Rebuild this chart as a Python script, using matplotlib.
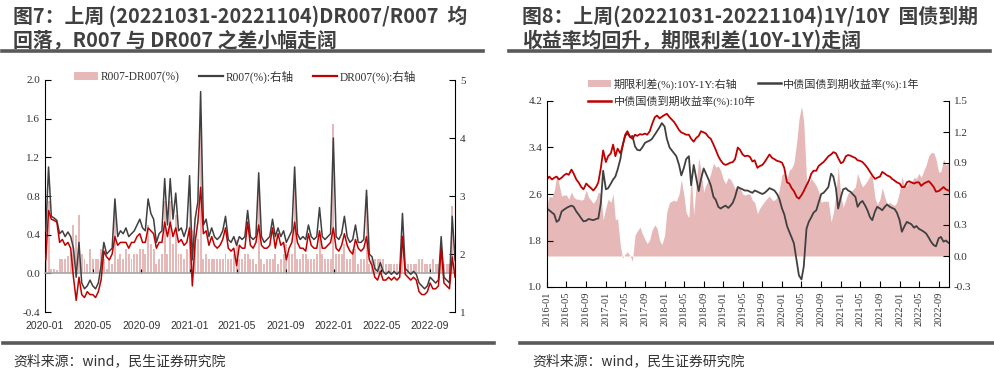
import numpy as np
import pandas as pd
import matplotlib
matplotlib.use('Agg')
import matplotlib.pyplot as plt
import matplotlib.dates as mdates
from matplotlib.patches import Patch
from matplotlib.lines import Line2D
from matplotlib import font_manager

plt.rcParams['font.family'] = ['Liberation Serif', 'Noto Sans CJK SC']
names = {f.name for f in font_manager.fontManager.ttflist}
narrow = 'Liberation Sans Narrow' if 'Liberation Sans Narrow' in names else 'Liberation Sans'

PINK = '#e6b9b8'
GRAY = '#404040'
RED = '#c00000'
TXT = '#333333'

# ---- 图7: weekly R007 / DR007 (%) ----
week_dates = pd.date_range('2020-01-03', '2022-11-04', freq='W-FRI')
r007 = [
    2.40, 3.50, 2.65, 2.62, 2.58, 2.35, 2.40, 2.30, 2.38, 2.30, 2.10, 1.60, 2.20,
    1.50, 1.40, 1.45, 1.55, 1.45, 1.40, 1.50, 1.80, 2.20, 2.00, 2.05, 2.10, 2.95,
    2.30, 2.40, 2.35, 2.45, 2.30, 2.35, 2.40, 2.50, 2.60, 2.45, 2.40, 2.95, 2.70,
    2.60, 2.20, 2.35, 2.40, 3.30, 2.50, 3.30, 2.60, 3.05, 2.40, 2.45, 2.30, 2.45,
    # 2021
    3.35, 1.90, 2.60, 2.90, 4.80, 2.50, 2.60, 2.30, 2.45, 2.30, 2.25, 2.30, 2.40,
    2.65, 2.25, 2.20, 2.30, 2.15, 2.30, 2.25, 2.30, 2.75, 2.30, 2.25, 2.30, 3.40,
    2.30, 2.20, 2.25, 2.30, 2.60, 2.30, 2.45, 2.30, 2.40, 2.20, 2.30, 2.40, 3.50,
    2.35, 2.25, 2.30, 2.25, 2.50, 2.30, 2.25, 2.30, 2.80, 2.30, 2.25, 2.30, 2.35, 4.00,
    # 2022
    2.30, 2.25, 2.35, 2.65, 2.30, 2.20, 2.25, 2.50, 2.20, 2.20, 2.25, 3.10,
    2.00, 1.95, 1.75, 1.70, 1.85, 1.70, 1.65, 1.70, 1.65, 1.70, 1.65, 1.70, 2.70,
    1.75, 1.70, 1.65, 1.70, 1.65, 1.50, 1.45, 1.40, 1.45,
    1.60, 1.55, 1.50, 1.55, 2.30, 1.60, 1.55, 1.50, 2.65, 1.90,
]
dr007 = [
    1.90, 2.75, 2.60, 2.58, 2.55, 2.20, 2.25, 2.15, 2.20, 2.10, 1.60, 1.20, 1.60,
    1.30, 1.25, 1.35, 1.30, 1.30, 1.25, 1.35, 1.55, 2.05, 1.95, 1.90, 2.00, 2.30,
    2.15, 2.20, 2.20, 2.20, 2.10, 2.20, 2.20, 2.30, 2.35, 2.20, 2.20, 2.45, 2.40,
    2.35, 2.10, 2.20, 2.20, 2.55, 2.30, 2.55, 2.30, 2.45, 2.20, 2.25, 2.15, 2.20,
    # 2021
    2.45, 1.45, 2.20, 2.55, 3.15, 2.35, 2.40, 2.15, 2.30, 2.15, 2.10, 2.15, 2.25,
    2.45, 2.10, 2.05, 2.10, 1.80, 2.15, 2.10, 2.10, 2.55, 2.15, 2.10, 2.20, 2.50,
    2.15, 2.10, 2.10, 2.15, 2.45, 2.10, 2.35, 2.15, 2.20, 1.90, 2.10, 2.20, 2.55,
    2.20, 2.10, 2.10, 2.05, 2.35, 2.15, 2.10, 2.10, 2.40, 2.10, 2.10, 2.15, 2.20, 2.45,
    # 2022
    2.10, 2.05, 2.15, 2.35, 2.15, 2.05, 2.00, 2.25, 2.10, 2.05, 2.10, 2.30,
    1.90, 1.80, 1.60, 1.55, 1.70, 1.55, 1.55, 1.60, 1.55, 1.60, 1.55, 1.60, 2.30,
    1.65, 1.60, 1.55, 1.60, 1.55, 1.35, 1.30, 1.30, 1.35,
    1.50, 1.40, 1.40, 1.45, 2.10, 1.50, 1.45, 1.40, 1.95, 1.60,
]
spread7 = np.array(r007) - np.array(dr007)

# ---- 图8: semi-monthly treasury yields (%) ----
bond_dates = pd.date_range('2016-01-01', '2022-11-01', freq='SMS')
y10 = [
    2.85, 2.90, 2.85, 2.88, 2.90, 2.85, 2.88, 2.92, 2.95, 2.93, 3.02, 2.95,
    2.85, 2.80, 2.72, 2.68, 2.78, 2.74, 2.70, 2.66, 2.72, 2.80, 3.05, 3.35,
    3.15, 3.25, 3.30, 3.45, 3.25, 3.38, 3.30, 3.42, 3.62, 3.68, 3.58, 3.55,
    3.62, 3.60, 3.63, 3.62, 3.64, 3.62, 3.68, 3.80, 3.92, 3.95, 3.90, 3.93,
    3.96, 3.98, 3.92, 3.88, 3.84, 3.78, 3.70, 3.66, 3.64, 3.62, 3.62, 3.55,
    3.50, 3.56, 3.60, 3.68, 3.66, 3.64, 3.58, 3.55, 3.45, 3.36, 3.25, 3.18,
    3.12, 3.10, 3.12, 3.14, 3.15, 3.20, 3.40, 3.36, 3.28, 3.25, 3.26, 3.24,
    3.16, 3.18, 3.05, 3.08, 3.10, 3.15, 3.22, 3.28, 3.22, 3.20, 3.17, 3.16,
    3.14, 3.05, 2.80, 2.78, 2.70, 2.65, 2.55, 2.52, 2.58, 2.65, 2.75, 2.82,
    2.95, 3.00, 3.00, 3.08, 3.12, 3.15, 3.20, 3.25, 3.28, 3.32, 3.30, 3.22,
    3.13, 3.15, 3.25, 3.27, 3.26, 3.24, 3.22, 3.18, 3.17, 3.15, 3.10, 3.05,
    2.98, 2.92, 2.86, 2.88, 2.90, 2.98, 2.95, 2.92, 2.90, 2.86, 2.83, 2.80,
    2.78, 2.72, 2.72, 2.80, 2.82, 2.80, 2.78, 2.80, 2.80, 2.74, 2.78, 2.80,
    2.82, 2.78, 2.72, 2.64, 2.65, 2.68, 2.72, 2.68, 2.66,
]
y1 = [
    2.35, 2.32, 2.28, 2.25, 2.12, 2.15, 2.30, 2.33, 2.36, 2.38, 2.40, 2.38,
    2.30, 2.25, 2.18, 2.13, 2.14, 2.17, 2.16, 2.15, 2.17, 2.18, 2.45, 3.00,
    2.68, 2.70, 2.78, 2.85, 2.90, 3.02, 3.20, 3.44, 3.60, 3.64, 3.58, 3.60,
    3.42, 3.36, 3.35, 3.40, 3.48, 3.50, 3.52, 3.55, 3.62, 3.68, 3.75, 3.82,
    3.76, 3.55, 3.40, 3.35, 3.30, 3.25, 3.10, 2.92, 3.05, 3.20, 3.25, 2.75,
    3.10, 2.90, 2.65, 2.85, 3.04, 2.95, 2.85, 2.75, 2.55, 2.50, 2.38, 2.35,
    2.38, 2.40, 2.36, 2.40, 2.45, 2.55, 2.72, 2.70, 2.68, 2.66, 2.66, 2.64,
    2.62, 2.66, 2.64, 2.62, 2.60, 2.62, 2.66, 2.70, 2.68, 2.66, 2.60, 2.52,
    2.35, 2.25, 2.05, 1.95, 1.85, 1.75, 1.45, 1.20, 1.13, 1.35, 2.00, 2.12,
    2.20, 2.28, 2.32, 2.45, 2.60, 2.62, 2.67, 2.72, 2.95, 2.90, 2.70, 2.35,
    2.55, 2.68, 2.70, 2.66, 2.64, 2.60, 2.55, 2.38, 2.45, 2.48, 2.40, 2.32,
    2.20, 2.15, 2.30, 2.38, 2.35, 2.32, 2.38, 2.42, 2.38, 2.36, 2.34, 2.28,
    2.15, 1.95, 2.05, 2.12, 2.10, 2.08, 2.02, 2.05, 2.00, 1.98, 1.95, 1.92,
    1.85, 1.78, 1.72, 1.70, 1.84, 1.86, 1.78, 1.80, 1.76,
]
term_spread = np.array(y10) - np.array(y1)

fig = plt.figure(figsize=(9.95, 3.75), dpi=100)

# titles and frame lines
title_kw = dict(fontsize=14.3, fontweight='bold', family='Noto Sans CJK SC', color='#404040', va='center')
fig.text(13 / 995, 1 - 16 / 375, '图7：上周 (20221031-20221104)DR007/R007  均', **title_kw)
fig.text(13 / 995, 1 - 40 / 375, '回落，R007 与 DR007 之差小幅走阔', **title_kw)
fig.text(522 / 995, 1 - 16 / 375, '图8：上周(20221031-20221104)1Y/10Y  国债到期', **title_kw)
fig.text(522 / 995, 1 - 40 / 375, '收益率均回升，期限利差(10Y-1Y)走阔', **title_kw)
for x0, x1, yy in [(2, 483, 51), (509, 990, 51), (3, 494, 343), (520, 995, 343)]:
    fig.add_artist(Line2D([x0 / 995, x1 / 995], [1 - yy / 375] * 2, transform=fig.transFigure,
                          color='#595959', lw=2.6))
src_kw = dict(fontsize=10, family='Noto Sans CJK SC', color=TXT, va='center')
fig.text(13 / 995, 1 - 361 / 375, '资料来源：wind，民生证券研究院', **src_kw)
fig.text(532 / 995, 1 - 361 / 375, '资料来源：wind，民生证券研究院', **src_kw)

# ---- left chart ----
ax1 = fig.add_axes([45 / 995, 63 / 375, 410 / 995, 232 / 375])
ax1r = ax1.twinx()
ax1.bar(week_dates, spread7, width=5, color=PINK, linewidth=0)
ax1r.plot(week_dates, r007, color=GRAY, lw=1.1)
ax1r.plot(week_dates, dr007, color=RED, lw=1.1)

ax1.set_ylim(-0.4, 2.0)
ax1.set_yticks(np.arange(-0.4, 2.01, 0.4))
ax1.yaxis.set_major_formatter(plt.FormatStrFormatter('%.1f'))
ax1r.set_ylim(1, 5)
ax1r.set_yticks([1, 2, 3, 4, 5])
ax1.set_xlim(pd.Timestamp('2020-01-01'), pd.Timestamp('2022-11-04'))
ax1.xaxis.set_major_locator(mdates.MonthLocator(bymonth=[1, 5, 9]))
ax1.xaxis.set_major_formatter(mdates.DateFormatter('%Y-%m'))

ax1.spines['top'].set_visible(False)
ax1.spines['right'].set_visible(False)
ax1.spines['bottom'].set_position(('data', 0))
ax1.spines['bottom'].set_color('#a6a6a6')
ax1.spines['bottom'].set_linewidth(1.2)
for s in ['top', 'left', 'bottom']:
    ax1r.spines[s].set_visible(False)
ax1.tick_params(axis='y', direction='in', length=4, labelsize=8, labelcolor=TXT)
ax1r.tick_params(axis='y', direction='in', length=4, labelsize=8, labelcolor=TXT)
ax1.tick_params(axis='x', direction='in', length=3, pad=34, labelsize=7.5, labelcolor=TXT)
for lab in ax1.get_xticklabels():
    lab.set_family(narrow)

fig.legend([Patch(color=PINK, lw=0), Line2D([], [], color=GRAY, lw=1.6), Line2D([], [], color=RED, lw=1.6)],
           ['R007-DR007(%)', 'R007(%):右轴', 'DR007(%):右轴'],
           loc='center', bbox_to_anchor=(245 / 995, 1 - 77 / 375), ncol=3, frameon=False,
           fontsize=8.3, handlelength=2.1, handletextpad=0.2, columnspacing=1.7, labelcolor=TXT)

# ---- right chart ----
ax2 = fig.add_axes([547 / 995, 88 / 375, 402 / 995, 186 / 375])
ax2r = ax2.twinx()
ax2r.fill_between(bond_dates, 0, term_spread, color=PINK, lw=0)
ax2.plot(bond_dates, y1, color=GRAY, lw=1.3)
ax2.plot(bond_dates, y10, color=RED, lw=1.3)
ax2.set_zorder(ax2r.get_zorder() + 1)
ax2.patch.set_visible(False)

ax2.set_ylim(1.0, 4.2)
ax2.set_yticks(np.arange(1.0, 4.21, 0.8))
ax2.yaxis.set_major_formatter(plt.FormatStrFormatter('%.1f'))
ax2r.set_ylim(-0.3, 1.5)
ax2r.set_yticks(np.arange(-0.3, 1.51, 0.3))
ax2r.yaxis.set_major_formatter(plt.FormatStrFormatter('%.1f'))
ax2.set_xlim(pd.Timestamp('2016-01-01'), pd.Timestamp('2022-11-04'))
ax2.xaxis.set_major_locator(mdates.MonthLocator(bymonth=[1, 5, 9]))
ax2.xaxis.set_major_formatter(mdates.DateFormatter('%Y-%m'))
ax2.spines['top'].set_visible(False)
ax2.spines['right'].set_visible(False)
for s in ['top', 'left', 'bottom']:
    ax2r.spines[s].set_visible(False)
ax2.tick_params(axis='y', direction='in', length=4, labelsize=8, labelcolor=TXT)
ax2r.tick_params(axis='y', direction='in', length=4, labelsize=8, labelcolor=TXT)
ax2.tick_params(axis='x', direction='in', length=4, labelsize=7.5, labelcolor=TXT, rotation=90)

fig.legend([Patch(color=PINK, lw=0), Line2D([], [], color=RED, lw=1.8), Line2D([], [], color=GRAY, lw=1.8)],
           ['期限利差(%):10Y-1Y:右轴', '中债国债到期收益率(%):10年', '中债国债到期收益率(%):1年'],
           loc='upper left', bbox_to_anchor=(588 / 995, 1 - 78 / 375), ncol=2, frameon=False,
           fontsize=8, handlelength=2.1, handletextpad=0.2, columnspacing=0.2, labelspacing=0.5,
           borderpad=0, borderaxespad=0, labelcolor=TXT)

fig.savefig('out.png', dpi=100)
